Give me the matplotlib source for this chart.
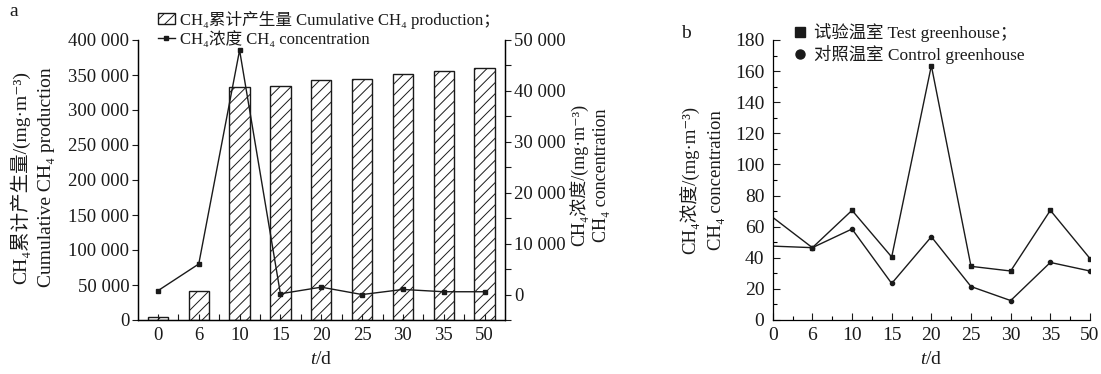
import matplotlib
matplotlib.use("Agg")
import matplotlib.pyplot as plt
from matplotlib.lines import Line2D
from matplotlib.ticker import FuncFormatter, MultipleLocator, FixedLocator

plt.rcParams['font.family'] = ['Liberation Serif', 'DejaVu Serif', 'Noto Sans CJK SC']
plt.rcParams['mathtext.fontset'] = 'custom'
plt.rcParams['mathtext.rm'] = 'Liberation Serif'
plt.rcParams['mathtext.it'] = 'Liberation Serif:italic'
plt.rcParams['hatch.linewidth'] = 0.7
plt.rcParams['axes.unicode_minus'] = False

# --- Data ---
days = ['0', '6', '10', '15', '20', '25', '30', '35', '50']
cumulative = [4500, 42000, 333000, 334000, 343500, 344000, 352000, 356000, 360000]  # mg/m3
concentration = [750, 6000, 48000, 150, 1450, 0, 1000, 550, 550]  # mg/m3
test_gh = [66, 46.5, 70.5, 40.5, 163.5, 34.5, 31.5, 70.5, 39.5]
control_gh = [47.5, 46.5, 58.5, 23.5, 53.5, 21.5, 12.5, 37, 31.5]

ink = '#1a1a1a'
W, H = 1101, 374
x = list(range(len(days)))


def space_thousands(v, pos):
    return f'{int(round(v)):,}'.replace(',', ' ')


fig = plt.figure(figsize=(W / 100, H / 100), dpi=100)

# --- Panel a: bars (left axis) + concentration line (right axis) ---
ax = fig.add_axes([137.5 / W, 54 / H, 367.5 / W, 280 / H])
bars = ax.bar(x, cumulative, width=0.5, color='white', edgecolor=ink,
              hatch='///', linewidth=1.0)
ax.set_xlim(-0.5, 8.5)
ax.set_ylim(0, 400000)
ax.yaxis.set_major_locator(MultipleLocator(50000))
ax.yaxis.set_major_formatter(FuncFormatter(space_thousands))
ax.set_xticks(x)
ax.set_xticklabels(days)
ax.xaxis.set_minor_locator(FixedLocator([i + 0.5 for i in range(8)]))
ax.tick_params(axis='x', which='both', direction='in', length=4, width=0.8,
               labelsize=13.5, pad=5, colors=ink)
ax.tick_params(axis='y', direction='out', length=4, width=0.8,
               labelsize=13.5, pad=2, colors=ink)
ax.spines['top'].set_visible(False)

ax2 = ax.twinx()
line, = ax2.plot(x, concentration, '-s', color=ink, lw=1.0, ms=3)
ax2.set_ylim(-5000, 50000)
ax2.yaxis.set_major_locator(FixedLocator(range(0, 50001, 10000)))
ax2.yaxis.set_minor_locator(FixedLocator(range(-5000, 50001, 10000)))
ax2.yaxis.set_major_formatter(FuncFormatter(space_thousands))
ax2.tick_params(axis='y', which='both', direction='out', length=4, width=0.8,
                labelsize=13.5, pad=2.5, colors=ink)
ax2.spines['top'].set_visible(False)
for s in ['left', 'right', 'bottom']:
    ax.spines[s].set_linewidth(0.9)
    ax2.spines[s].set_linewidth(0.9)

ax2.legend([bars, line],
           ['CH₄累计产生量 Cumulative CH₄ production；', 'CH₄浓度 CH₄ concentration'],
           loc='upper left', bbox_to_anchor=(0.056, 1.105), frameon=False,
           fontsize=12, handlelength=1.0, handleheight=0.6, handletextpad=0.3,
           labelspacing=0.12, borderpad=0, borderaxespad=0, labelcolor=ink)

fig.text(20 / W, 1 - 177 / H, 'CH₄累计产生量/(mg·m⁻³)', rotation=90,
         ha='center', va='center', fontsize=14, color=ink)
fig.text(47 / W, 1 - 177 / H, 'Cumulative CH₄ production', rotation=90,
         ha='center', va='center', fontsize=14, color=ink)
fig.text(579 / W, 1 - 175 / H, 'CH₄浓度/(mg·m⁻³)', rotation=90,
         ha='center', va='center', fontsize=13, color=ink)
fig.text(602 / W, 1 - 175 / H, 'CH₄ concentration', rotation=90,
         ha='center', va='center', fontsize=13, color=ink)
fig.text(321 / W, 1 - 359 / H, '$t$/d', ha='center', va='center',
         fontsize=14, color=ink)
fig.text(14 / W, 1 - 12 / H, 'a', ha='center', va='center', fontsize=14, color=ink)

# --- Panel b: test vs control greenhouse ---
bx = fig.add_axes([772.7 / W, 54 / H, 317.3 / W, 280 / H])
bx.plot(x, test_gh, '-s', color=ink, lw=1.0, ms=3, markevery=list(range(1, 9)))
bx.plot(x, control_gh, '-o', color=ink, lw=1.0, ms=3, markevery=list(range(1, 9)))
bx.set_xlim(0, 8)
bx.set_ylim(0, 180)
bx.set_xticks(x)
bx.set_xticklabels(days)
bx.xaxis.set_minor_locator(FixedLocator([i + 0.5 for i in range(8)]))
bx.yaxis.set_major_locator(MultipleLocator(20))
bx.yaxis.set_minor_locator(MultipleLocator(10))
bx.tick_params(axis='both', which='major', direction='in', length=5, width=0.8,
               labelsize=14, colors=ink)
bx.tick_params(axis='both', which='minor', direction='in', length=3, width=0.8)
bx.tick_params(axis='x', pad=5)
bx.tick_params(axis='y', pad=6)
bx.spines['top'].set_visible(False)
bx.spines['right'].set_visible(False)
for s in ['left', 'bottom']:
    bx.spines[s].set_linewidth(0.9)

proxies = [Line2D([], [], marker='s', ls='none', color=ink, ms=6.5),
           Line2D([], [], marker='o', ls='none', color=ink, ms=6.5)]
bx.legend(proxies, ['试验温室 Test greenhouse；', '对照温室 Control greenhouse'],
          loc='upper left', bbox_to_anchor=(0.065, 1.06), frameon=False,
          fontsize=12.5, handlelength=0.8, handletextpad=0.4,
          labelspacing=0.15, borderpad=0, borderaxespad=0, labelcolor=ink)

fig.text(690 / W, 1 - 180 / H, 'CH₄浓度/(mg·m⁻³)', rotation=90,
         ha='center', va='center', fontsize=13.5, color=ink)
fig.text(716 / W, 1 - 180 / H, 'CH₄ concentration', rotation=90,
         ha='center', va='center', fontsize=13.5, color=ink)
fig.text(931 / W, 1 - 359 / H, '$t$/d', ha='center', va='center',
         fontsize=14, color=ink)
fig.text(686 / W, 1 - 33 / H, 'b', ha='center', va='center', fontsize=14, color=ink)

fig.savefig('out.png', dpi=100, facecolor='white')
